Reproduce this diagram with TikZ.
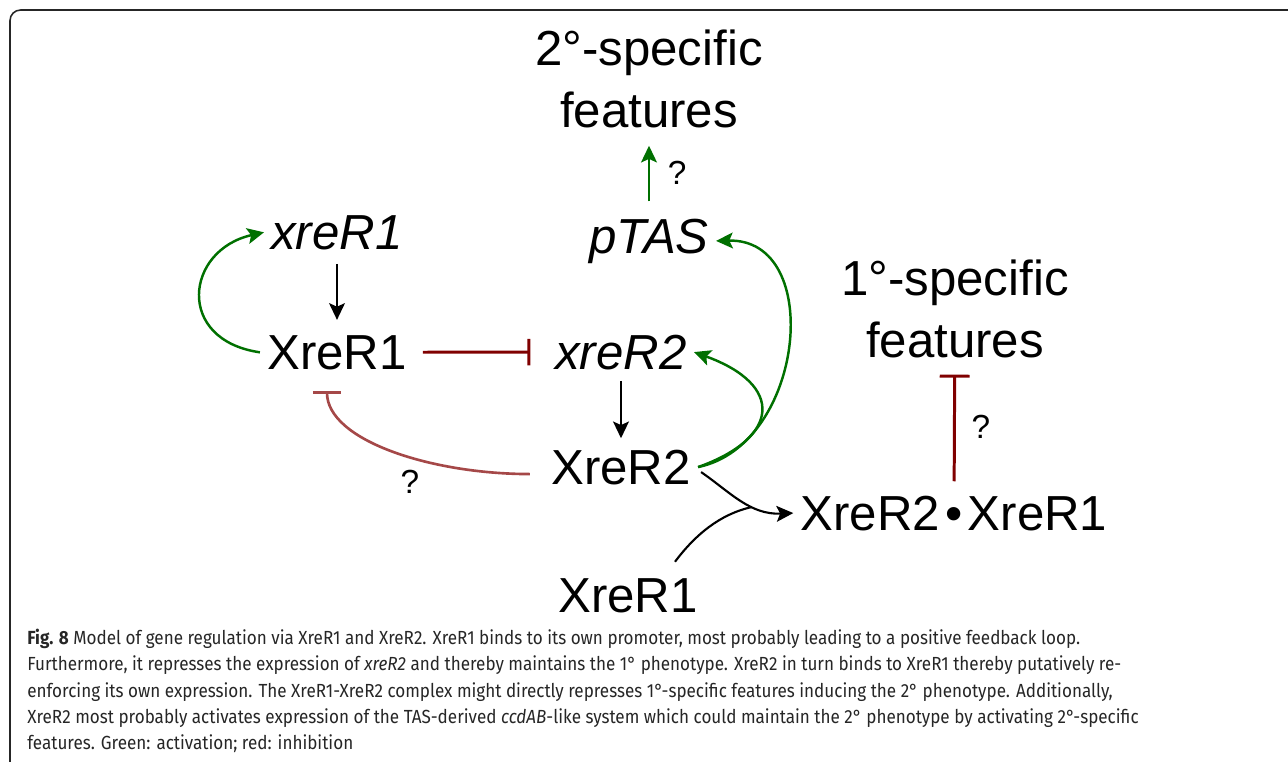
\documentclass[tikz,border=0pt]{standalone}
\usepackage{fontspec}
\setmainfont{Liberation Sans}
\newfontfamily\capfont[FakeStretch=0.9]{Fira Sans}
\usetikzlibrary{arrows.meta, calc}

\definecolor{actgreen}{RGB}{0,112,0}
\definecolor{inhred}{RGB}{128,0,0}
\definecolor{inhrose}{RGB}{165,72,72}

\begin{document}
\begin{tikzpicture}[
    x=0.02cm, y=-0.02cm,
    >={Stealth[length=9.5pt, width=9pt, inset=2pt]},
    txt/.style={inner sep=4pt, font=\fontsize{28}{35}\selectfont, align=center},
    gene/.style={txt, font=\fontsize{28}{35}\selectfont\itshape},
    qmark/.style={inner sep=0pt, font=\fontsize{19}{22}\selectfont},
    act/.style={->, draw=actgreen, line width=1.4pt},
    inh/.style={-{Bar[width=15pt, line width=1.7pt]}, draw=inhred, line width=1.7pt},
    bindline/.style={line width=1.2pt},
    bind/.style={bindline, ->},
    frame/.style={draw=black!85, line width=0.9pt, rounded corners=6pt},
    caption/.style={inner sep=0pt, align=left, text=black!85, font=\capfont\fontsize{10.8}{14.9}\selectfont}
]
    \useasboundingbox (0,0) rectangle (1288,761);
    \draw[frame] (10,10) rectangle (1330,785);

    % Features
    \node[txt] (feat2) at (649,79) {2°-specific\\features};
    \node[txt] (feat1) at (955,309) {1°-specific\\features};

    % Genes and proteins
    \node[gene, anchor=base] (ptas) at (649,253) {pTAS};
    \node[gene, anchor=base] (xr1g) at (337,249) {xreR1};
    \node[txt, anchor=base] (XR1) at (337,369) {XreR1};
    \node[gene, anchor=base] (xr2g) at (621,369) {xreR2};
    \node[txt, anchor=base] (XR2) at (621,484) {XreR2};
    \node[txt, anchor=base] (cplx) at (954,530) {XreR2\kern3pt•\kern3pt XreR1};
    \node[txt, anchor=base] (XR1b) at (628,612) {XreR1};

    % Expression
    \draw[bind, shorten <=4pt, shorten >=4.5pt] (xr1g) -- (XR1);
    \draw[bind, shorten <=2.3pt, shorten >=2.3pt] (xr2g) -- (XR2);

    % Activation
    \draw[act, shorten <=5.7pt, shorten >=6pt] (ptas) -- node[qmark, right=10pt] {?} (feat2);
    \draw[act] (XR1.west) .. controls (175,340) and (185,250) .. (xr1g.west);
    \draw[act] (XR2.east) .. controls (780,438) and (785,385) .. (xr2g.east);
    \draw[act] (XR2.east) .. controls (805,445) and (825,238) .. (ptas.east);

    % Inhibition
    \draw[inh, shorten <=5pt, shorten >=10pt] (XR1) -- (xr2g);
    \draw[inh, draw=inhrose, line width=1.5pt, -{Bar[width=16pt, line width=1.5pt]}]
        ($(XR2.west)+(-14,7)$) .. controls (430,474) and (327,440) .. ($(XR1.south)+(-10,14)$);
    \node[qmark] (q1) at (410,482) {?};
    \draw[inh, -{Bar[width=17pt, line width=1.7pt]}, shorten <=4pt, shorten >=5.4pt]
        (cplx) -- node[qmark, right=9pt] {?} (feat1);

    % Complex formation
    \coordinate (merge) at (752,507);
    \draw[bind] ($(XR2.east)+(3,5)$) .. controls (730,492) and (750,515) .. (cplx.west);
    \draw[bindline] ($(XR1b.north)+(47,-9)$) .. controls (695,535) and (720,514) .. (merge);

    % Caption
    \node[caption, anchor=north west] (cap) at (27,629) {%
        \textbf{Fig. 8} Model of gene regulation via XreR1 and XreR2. XreR1 binds to its own promoter, most probably leading to a positive feedback loop.\\
        Furthermore, it represses the expression of \textit{xreR2} and thereby maintains the 1° phenotype. XreR2 in turn binds to XreR1 thereby putatively re-\\
        enforcing its own expression. The XreR1-XreR2 complex might directly represses 1°-specific features inducing the 2° phenotype. Additionally,\\
        XreR2 most probably activates expression of the TAS-derived \textit{ccdAB}-like system which could maintain the 2° phenotype by activating 2°-specific\\
        features. Green: activation; red: inhibition};

\end{tikzpicture}
\end{document}
